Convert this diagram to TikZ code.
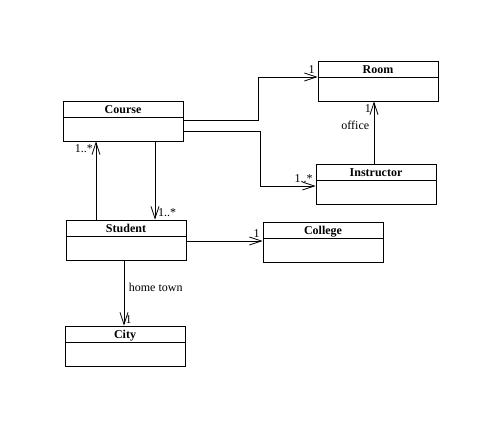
\documentclass[tikz,border=0pt]{standalone}
\usepackage{fontspec}
\setmainfont{Liberation Serif}
\usetikzlibrary{shapes,arrows.meta,positioning,calc}

\tikzset{
  classbox/.style={draw, rectangle, minimum width=90pt, minimum height=30pt, inner sep=0pt,
    path picture={\draw ([yshift=-12pt]path picture bounding box.north west) -- ([yshift=-12pt]path picture bounding box.north east);},
    label={[anchor=base, label distance=-10pt, font=\fontsize{9}{10}\selectfont\bfseries]north:#1}},
  assoc/.style={-{Straight Barb[length=9pt,width=6pt]}},
  mult/.style={inner sep=2pt}
}

\begin{document}
\begin{tikzpicture}[x=0.75pt, y=-0.75pt, line width=0.6pt, font=\fontsize{9}{10}\selectfont]
\useasboundingbox (0,0) rectangle (502,424);
% Klassen
\node[classbox=Course] (course) at (123,121) {};
\node[classbox=Room] (room) at (378,81) {};
\node[classbox=Instructor] (instructor) at (376,184) {};
\node[classbox=Student] (student) at (126,240) {};
\node[classbox=College] (college) at (323,242) {};
\node[classbox=City] (city) at (125,346) {};

% Assoziationen
\draw[assoc] ([shift={(0,-1)}]course.east) -- ++(75,0) |- node[pos=1, above left, mult] {1} ([shift={(0,-4)}]room.west);
\draw[assoc] ([shift={(0,10)}]course.east) -- ++(77,0) |- node[pos=1, above left, mult] {1..*} ([shift={(0,2)}]instructor.west);
\draw[assoc] ([shift={(-2,0)}]instructor.north) -- node[pos=0.62, left] {office} node[pos=1, below left, mult] {1} ([shift={(-4,0)}]room.south);
\draw[assoc] ([shift={(-30,0)}]student.north) -- node[pos=1, below left, mult] {1..*} ([shift={(-27,0)}]course.south);
\draw[assoc] ([shift={(32,0)}]course.south) -- node[pos=1, above right, mult] {1..*} ([shift={(29,0)}]student.north);
\draw[assoc] ([shift={(0,1)}]student.east) -- node[pos=1, above left, mult] {1} ([shift={(0,-1)}]college.west);
\draw[assoc] ([shift={(-2,0)}]student.south) -- node[pos=0.41, right] {home town} node[pos=1, above right, inner sep=1pt] {1} ([shift={(-1,0)}]city.north);
\end{tikzpicture}
\end{document}
